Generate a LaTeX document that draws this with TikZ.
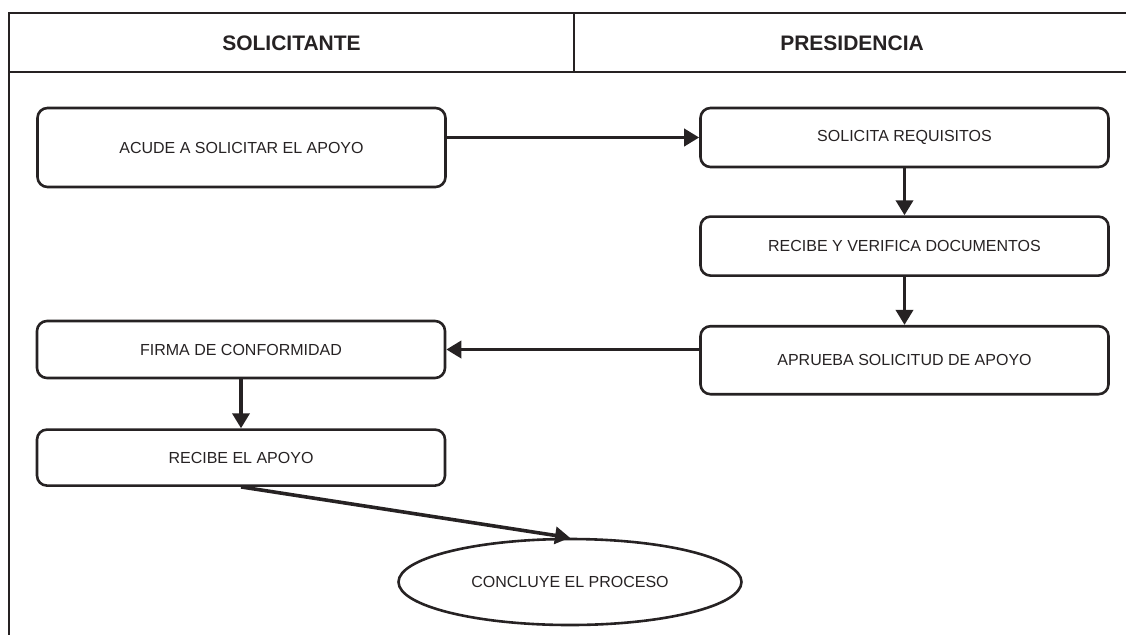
\documentclass[tikz,border=0pt]{standalone}
\usepackage{fontspec}
\setmainfont{Liberation Sans}
\usepackage{tikz}
\usetikzlibrary{positioning, shapes.geometric, arrows.meta}
\definecolor{ink}{HTML}{262223}

\begin{document}
\begin{tikzpicture}[x=1pt, y=-1pt, >={Triangle[length=15pt, width=17pt]},
    flow/.style={->, draw=ink, line width=3.6pt},
    frame line/.style={draw=ink, line width=2pt},
    box/.style={rectangle, rounded corners=10pt, draw=ink, line width=2.6pt, minimum width=408pt, text=ink, font=\fontsize{16}{19}\selectfont},
    end node/.style={ellipse, draw=ink, line width=2.6pt, minimum width=343pt, minimum height=86pt, inner sep=0pt, text=ink, font=\fontsize{16}{19}\selectfont},
    lane title/.style={text=ink, font=\bfseries\fontsize{21}{25}\selectfont}]

        \useasboundingbox (0,0) rectangle (1126,635);

        % Lanes
        \draw[frame line] (1126,13) -- (9,13) -- (9,635);
        \draw[frame line] (9,72) -- (1126,72);
        \draw[frame line] (574,13) -- (574,72);
        \node[lane title] (solicitante) at (291.5,43) {SOLICITANTE};
        \node[lane title] (presidencia) at (852,43) {PRESIDENCIA};

        \node[box, minimum height=79pt] (acude) at (241.5,147.5) {ACUDE A SOLICITAR EL APOYO};
        \node[box, minimum height=59pt] (solicita) at (904.5,137.5) {SOLICITA REQUISITOS};
        \node[box, minimum height=59pt] (verifica) [below=47pt of solicita] {RECIBE Y VERIFICA DOCUMENTOS};
        \node[box, minimum height=68pt] (aprueba) [below=48pt of verifica] {APRUEBA SOLICITUD DE APOYO};

        \node[box, minimum height=57pt] (firma) at (241,349.5) {FIRMA DE CONFORMIDAD};
        \node[box, minimum height=56pt] (recibe) [below=49pt of firma] {RECIBE EL APOYO};

        \node[end node] (concluye) at (570,582) {CONCLUYE EL PROCESO};

        % Edges
        \draw[flow] (acude.east |- solicita.west) -- (solicita.west);
        \draw[flow] (solicita) -- (verifica);
        \draw[flow] (verifica) -- (aprueba);
        \draw[flow] (aprueba.west |- firma.east) -- (firma.east);
        \draw[flow] (firma) -- (recibe);
        \draw[flow] (recibe.south) -- (concluye.north);
    \end{tikzpicture}
\end{document}
